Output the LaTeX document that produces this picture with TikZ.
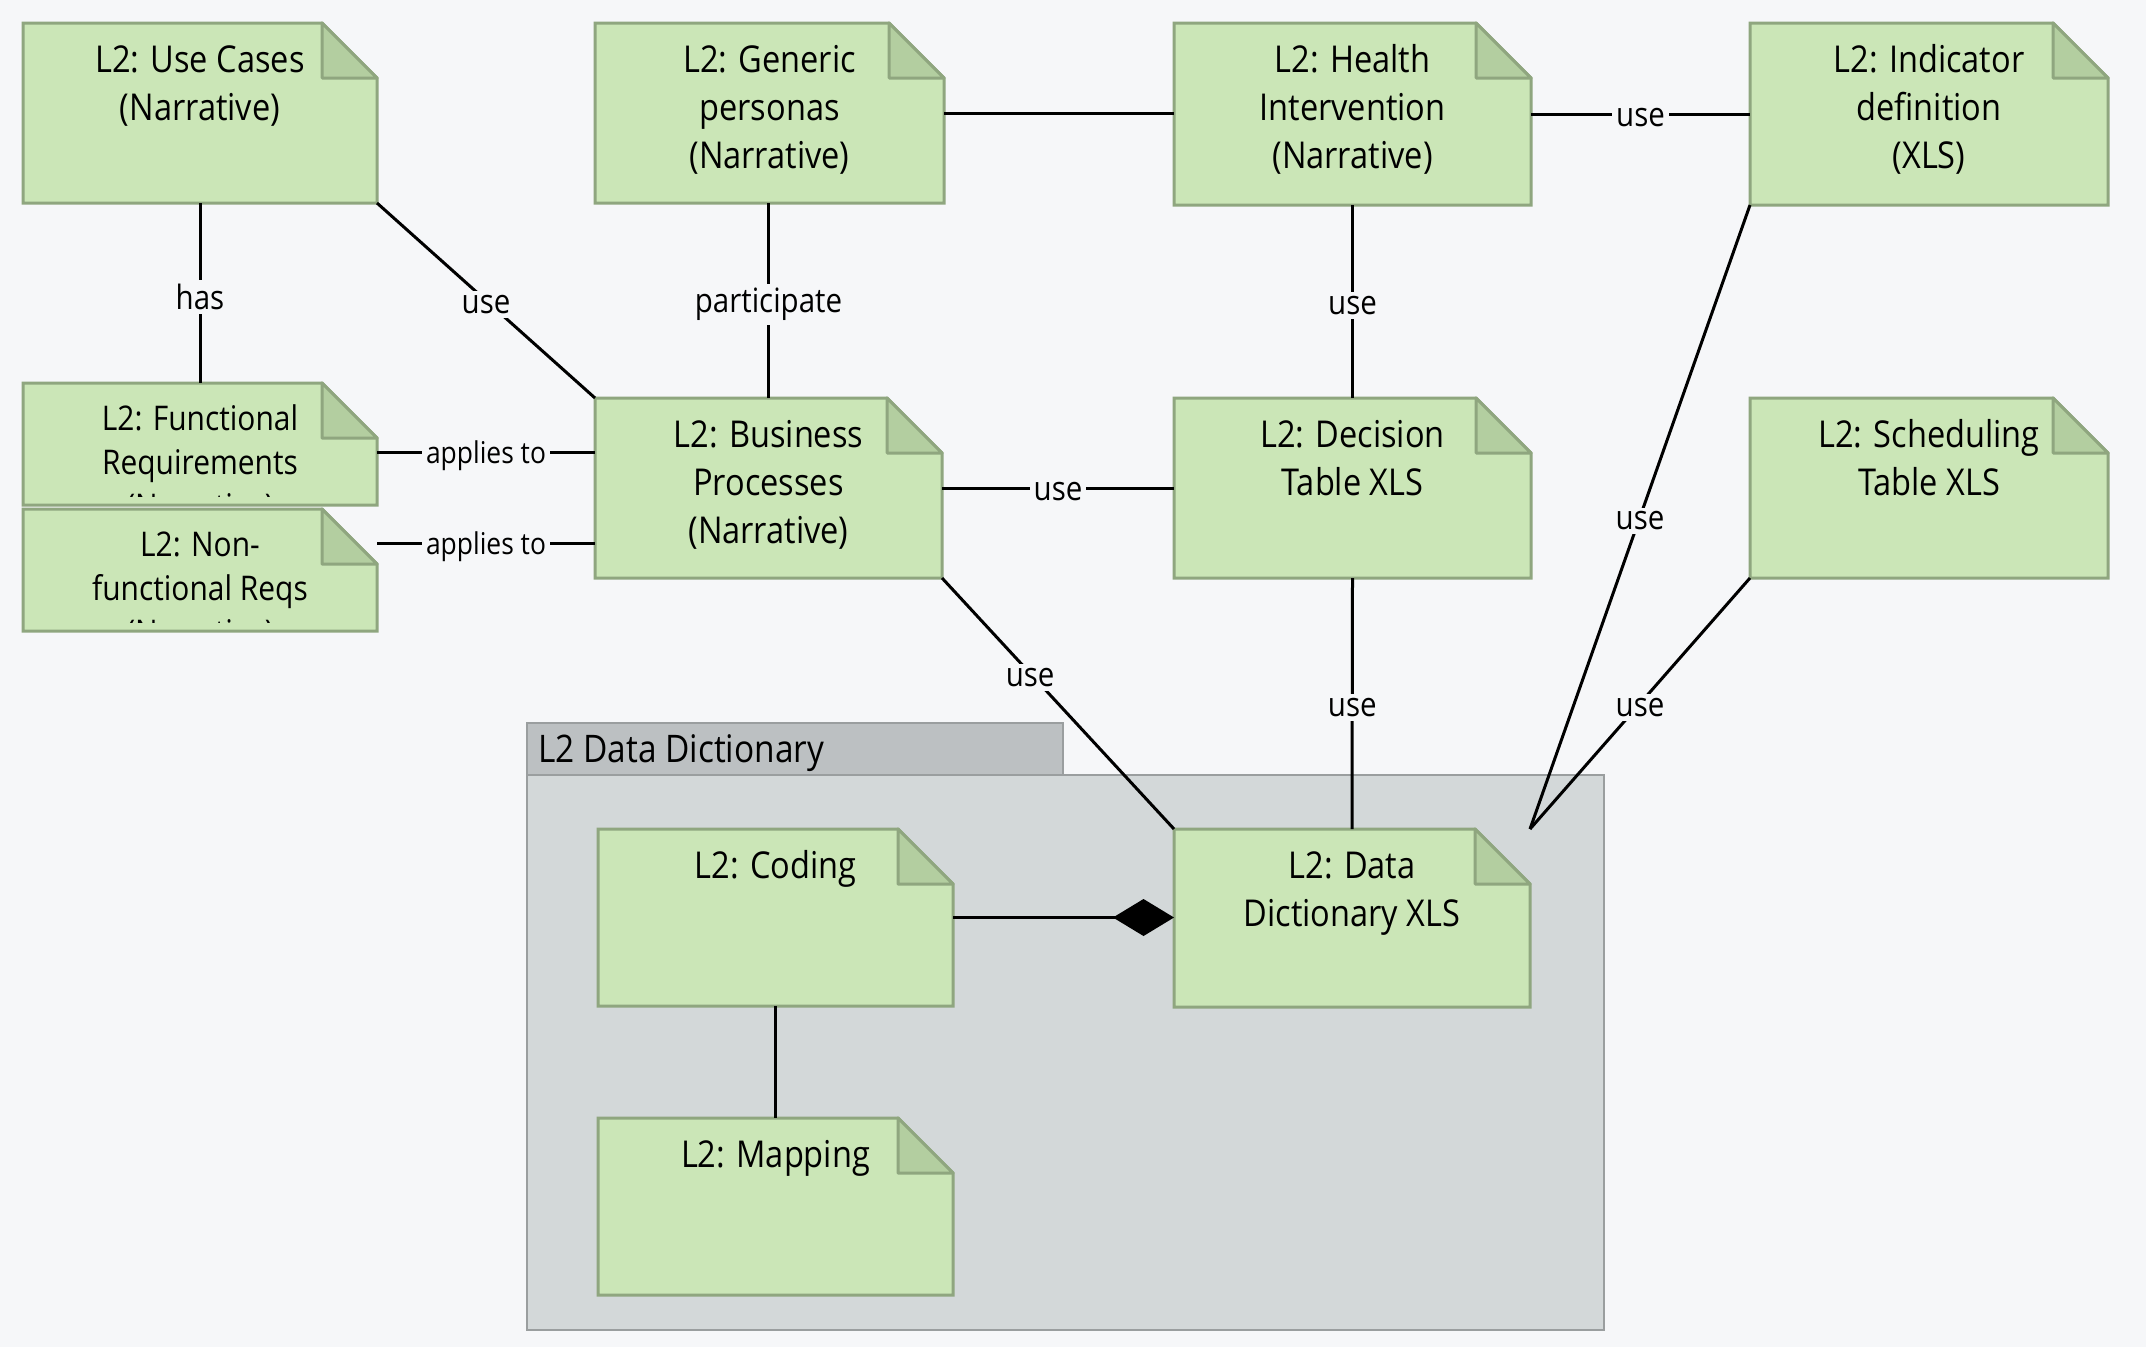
\documentclass[tikz,border=0pt]{standalone}
\usepackage{fontspec}
\setmainfont{Open Sans}[FakeStretch=0.88]
\usetikzlibrary{calc,arrows.meta}
\definecolor{bg}{RGB}{246,247,249}
\definecolor{notefill}{RGB}{203,230,183}
\definecolor{noteline}{RGB}{143,166,127}
\definecolor{notefold}{RGB}{179,206,160}
\definecolor{pkgbody}{RGB}{211,216,217}
\definecolor{pkgtab}{RGB}{188,192,194}
\definecolor{pkgline}{RGB}{154,158,159}
\begin{document}
\begin{tikzpicture}[x=1pt,y=-1pt,
  notebox/.style={rectangle, anchor=north west, inner sep=0pt, outer sep=0pt},
  ntext/.style={anchor=base, align=center, inner sep=0pt, font=\fontsize{37}{48}\selectfont},
  stext/.style={anchor=base, align=center, inner sep=0pt, font=\fontsize{34}{44}\selectfont},
  conn/.style={draw=black, line width=3pt},
  lbl/.style={fill=bg, inner sep=4pt, yshift=-4pt, font=\fontsize{33.5}{38}\selectfont},
  slbl/.style={fill=bg, inner sep=4pt, yshift=-4pt, font=\fontsize{30}{34}\selectfont},
  pkgbox/.style={rectangle, anchor=north west, inner sep=0pt, outer sep=0pt, draw=pkgline, line width=2.5pt},
]
\fill[bg] (0,0) rectangle (2146,1347);
\useasboundingbox (0,0) rectangle (2146,1347);

% package
\node[pkgbox, fill=pkgbody, minimum width=1077pt, minimum height=555pt] (pkg) at (527,775) {};
\node[pkgbox, fill=pkgtab, minimum width=536pt, minimum height=52pt] (pkgtab) at (527,723) {};
\node[anchor=base west, inner sep=0pt, font=\fontsize{38}{50}\selectfont] (pkgt) at (538,762) {L2 Data Dictionary};

% note frames
\node[notebox, minimum width=354pt, minimum height=180pt] (uc) at (23,23) {};
\node[notebox, minimum width=349pt, minimum height=180pt] (gp) at (595,23) {};
\node[notebox, minimum width=357pt, minimum height=182pt] (hi) at (1174,23) {};
\node[notebox, minimum width=358pt, minimum height=182pt] (ind) at (1750,23) {};
\node[notebox, minimum width=354pt, minimum height=122pt] (fr) at (23,383) {};
\node[notebox, minimum width=354pt, minimum height=122pt] (nfr) at (23,509) {};
\node[notebox, minimum width=347pt, minimum height=180pt] (bp) at (595,398) {};
\node[notebox, minimum width=357pt, minimum height=180pt] (dt) at (1174,398) {};
\node[notebox, minimum width=358pt, minimum height=180pt] (st) at (1750,398) {};
\node[notebox, minimum width=355pt, minimum height=177pt] (cod) at (598,829) {};
\node[notebox, minimum width=356pt, minimum height=178pt] (dd) at (1174,829) {};
\node[notebox, minimum width=355pt, minimum height=177pt] (map) at (598,1118) {};

\foreach \n in {uc,gp,hi,ind,fr,nfr,bp,dt,st,cod,dd,map} {
  \filldraw[fill=notefill, draw=noteline, line width=3pt]
    (\n.north west) -- ($(\n.north east)+(-55pt,0pt)$) -- ($(\n.north east)+(0pt,-55pt)$)
    -- (\n.south east) -- (\n.south west) -- cycle;
  \filldraw[fill=notefold, draw=noteline, line width=3pt, line join=round]
    ($(\n.north east)+(-55pt,0pt)$) -- ($(\n.north east)+(-55pt,-55pt)$) -- ($(\n.north east)+(0pt,-55pt)$) -- cycle;
}

% note texts (anchor=base is the last line's baseline)
\node[ntext] (uct) at ($(uc.north)+(0,-97pt)$) {L2: Use Cases\\(Narrative)};
\node[ntext] (gpt) at ($(gp.north)+(0,-145pt)$) {L2: Generic\\personas\\(Narrative)};
\node[ntext] (hit) at ($(hi.north)+(0,-145pt)$) {L2: Health\\Intervention\\(Narrative)};
\node[ntext] (indt) at ($(ind.north)+(0,-145pt)$) {L2: Indicator\\definition\\(XLS)};
\node[ntext] (bpt) at ($(bp.north)+(0,-145pt)$) {L2: Business\\Processes\\(Narrative)};
\node[ntext] (dtt) at ($(dt.north)+(0,-97pt)$) {L2: Decision\\Table XLS};
\node[ntext] (stt) at ($(st.north)+(0,-97pt)$) {L2: Scheduling\\Table XLS};
\node[ntext] (codt) at ($(cod.north)+(0,-49pt)$) {L2: Coding};
\node[ntext] (ddt) at ($(dd.north)+(0,-97pt)$) {L2: Data\\Dictionary XLS};
\node[ntext] (mapt) at ($(map.north)+(0,-49pt)$) {L2: Mapping};
\begin{scope}
  \clip ($(fr.north west)+(0pt,-2pt)$) rectangle ($(fr.south east)+(0pt,9pt)$);
  \node[stext] (frt) at ($(fr.north)+(0,-135pt)$) {L2: Functional\\Requirements\\(Narrative)};
\end{scope}
\begin{scope}
  \clip ($(nfr.north west)+(0pt,-2pt)$) rectangle ($(nfr.south east)+(0pt,9pt)$);
  \node[stext] (nfrt) at ($(nfr.north)+(0,-135pt)$) {L2: Non-\\functional Reqs\\(Narrative)};
\end{scope}

% connectors
\draw[conn] (uc.south) -- node[lbl]{has} (fr.north);
\draw[conn] (uc.south east) -- node[lbl]{use} (bp.north west);
\draw[conn] (bp.north |- gp.south) -- node[lbl]{participate} (bp.north);
\draw[conn] (gp.east) -- (gp.east -| hi.west);
\draw[conn] (hi.east) -- node[lbl]{use} (ind.west);
\draw[conn] (hi.south) -- node[lbl]{use} (dt.north);
\draw[conn] (fr.east |- 0,452) -- node[slbl]{applies to} (bp.west |- 0,452);
\draw[conn] (nfr.east |- 0,543) -- node[slbl]{applies to} (bp.west |- 0,543);
\draw[conn] (bp.east) -- node[lbl]{use} (dt.west);
\draw[conn] (bp.south east) -- node[lbl, pos=0.38]{use} (dd.north west);
\draw[conn] (dt.south) -- node[lbl]{use} (dd.north);
\draw[conn] (ind.south west) -- node[lbl]{use} (dd.north east);
\draw[conn] (st.south west) -- node[lbl]{use} (dd.north east);
\draw[conn, -{Diamond[length=61pt,width=37pt]}] (cod.east) -- (cod.east -| dd.west);
\draw[conn] (cod.south) -- (map.north);
\end{tikzpicture}
\end{document}
